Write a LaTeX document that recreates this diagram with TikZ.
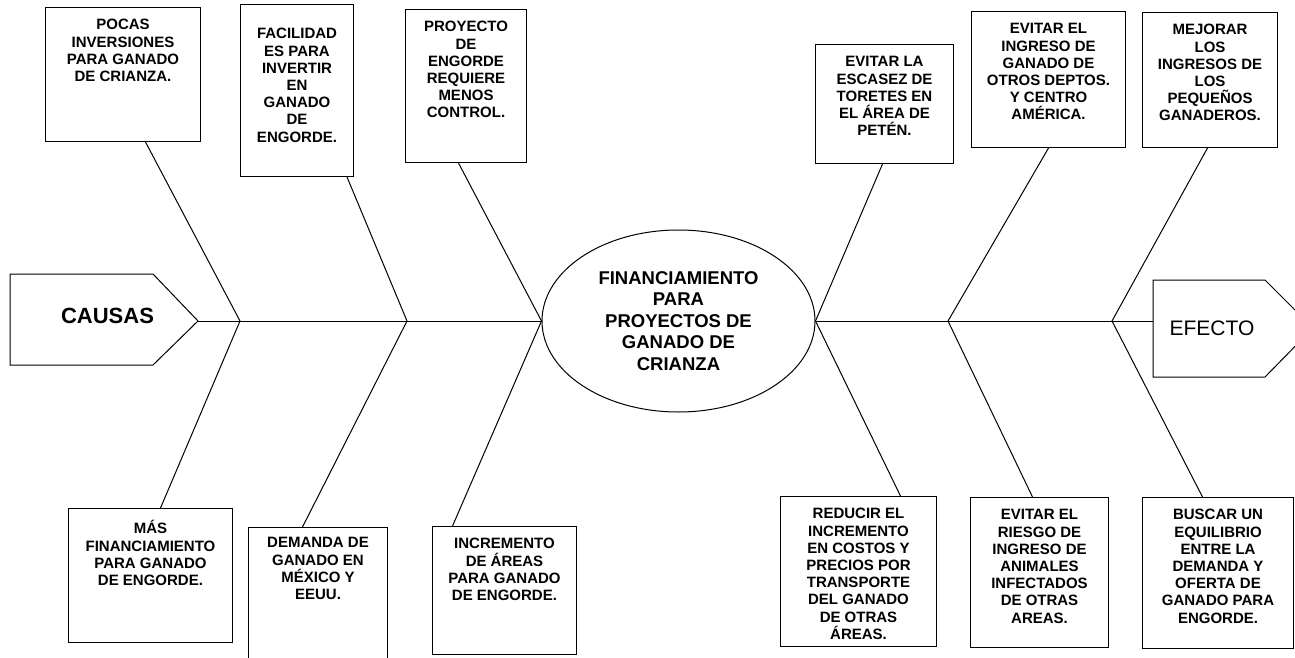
\documentclass[tikz,border=0pt]{standalone}
\usepackage{fontspec}
\setmainfont{Liberation Sans}
\usetikzlibrary{shapes.geometric}

\begin{document}
\begin{tikzpicture}[
  x=1pt, y=-1pt,
  line width=1pt,
  caja/.style={draw, rectangle, anchor=north west, inner sep=0pt},
  txt/.style={anchor=north, align=center, inner sep=0pt, yshift=-12pt,
    font=\fontsize{15}{17.2}\selectfont\bfseries},
  idea/.style={draw, ellipse, align=center,
    font=\fontsize{18.5}{21.5}\selectfont\bfseries}
  ]
\useasboundingbox (0,0) rectangle (1295,658);
\clip (0,0) rectangle (1295,658);
\draw (10,274) -- (153,274) -- (198,321) coordinate (ct) -- (153,365) -- (10,365) -- cycle;
\node [font=\fontsize{22}{26}\selectfont\bfseries] (causas) at (107.5,316) {CAUSAS};
\draw (1153,280) -- (1265,280) -- (1313,328) -- (1265,377) -- (1153,377) -- cycle;
\node [font=\fontsize{21}{25}\selectfont] (efecto) at (1212,328) {EFECTO};
\coordinate (ef) at (1153,321);
\node [idea, minimum width=273, minimum height=182] (prob) at (678.5,321)
  {FINANCIAMIENTO\\PARA\\PROYECTOS DE\\GANADO DE\\CRIANZA};
\coordinate (j1) at (240,321);
\coordinate (j2) at (407,321);
\coordinate (k2) at (948,321);
\coordinate (k3) at (1112,321);
\node [caja, minimum width=155, minimum height=134,
  label={[txt]north:{POCAS\\INVERSIONES\\PARA GANADO\\DE CRIANZA.}}] (c1) at (45,7) {};
\node [caja, minimum width=113, minimum height=172,
  label={[txt, yshift=-12pt]north:{FACILIDAD\\ES PARA\\INVERTIR\\EN\\GANADO\\DE\\ENGORDE.}}] (c2) at (240,4) {};
\node [caja, minimum width=121, minimum height=153,
  label={[txt]north:{PROYECTO\\DE\\ENGORDE\\REQUIERE\\MENOS\\CONTROL.}}] (c3) at (405,9) {};
\node [caja, minimum width=164, minimum height=134,
  label={[txt]north:{MÁS\\FINANCIAMIENTO\\PARA GANADO\\DE ENGORDE.}}] (c4) at (68,508) {};
\node [caja, minimum width=139, minimum height=145,
  label={[txt, yshift=2pt]north:{DEMANDA DE\\GANADO EN\\MÉXICO Y\\EEUU.}}] (c5) at (248,527) {};
\node [caja, minimum width=144, minimum height=128,
  label={[txt]north:{INCREMENTO\\DE ÁREAS\\PARA GANADO\\DE ENGORDE.}}] (c6) at (432,526) {};
\node [caja, minimum width=138, minimum height=119,
  label={[txt]north:{EVITAR LA\\ESCASEZ DE\\TORETES EN\\EL ÁREA DE\\PETÉN.}}] (e1) at (815,44) {};
\node [caja, minimum width=154, minimum height=136,
  label={[txt]north:{EVITAR EL\\INGRESO DE\\GANADO DE\\OTROS DEPTOS.\\Y CENTRO\\AMÉRICA.}}] (e2) at (971,11) {};
\node [caja, minimum width=135, minimum height=135,
  label={[txt]north:{MEJORAR\\LOS\\INGRESOS DE\\LOS\\PEQUEÑOS\\GANADEROS.}}] (e3) at (1142,12) {};
\node [caja, minimum width=156, minimum height=150,
  label={[txt]north:{REDUCIR EL\\INCREMENTO\\EN COSTOS Y\\PRECIOS POR\\TRANSPORTE\\DEL GANADO\\DE OTRAS\\ÁREAS.}}] (e4) at (780,496) {};
\node [caja, minimum width=138, minimum height=150,
  label={[txt]north:{EVITAR EL\\RIESGO DE\\INGRESO DE\\ANIMALES\\INFECTADOS\\DE OTRAS\\AREAS.}}] (e5) at (970,497) {};
\node [caja, minimum width=151, minimum height=151,
  label={[txt]north:{BUSCAR UN\\EQUILIBRIO\\ENTRE LA\\DEMANDA Y\\OFERTA DE\\GANADO PARA\\ENGORDE.}}] (e6) at (1142,497) {};
\draw (ct) -- (prob.west);
\draw (prob.east) -- (ef);
\draw ([xshift=22.5]c1.south) -- (j1) -- ([xshift=10]c4.north);
\draw ([xshift=50]c2.south) -- (j2) -- ([xshift=-15.5]c5.north);
\draw ([xshift=-7.5]c3.south) -- (prob.west) -- ([xshift=-52]c6.north);
\draw ([xshift=-2]e1.south) -- (prob.east) -- ([xshift=42]e4.north);
\draw (e2.south) -- (k2) -- ([xshift=-7]e5.north);
\draw ([xshift=-2.5]e3.south) -- (k3) -- ([xshift=-15.5]e6.north);
\end{tikzpicture}
\end{document}
